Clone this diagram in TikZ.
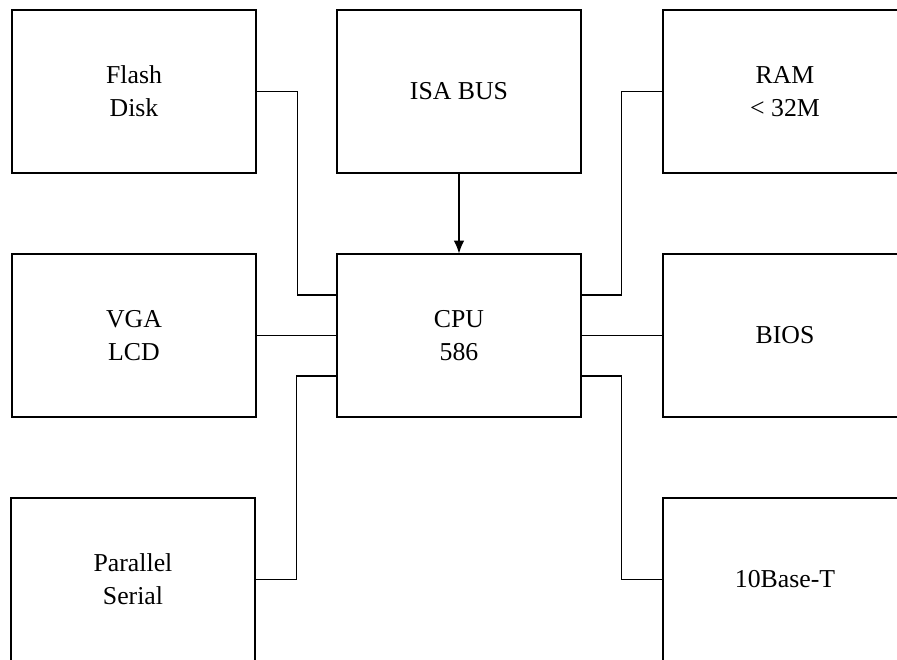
\documentclass[tikz,border=0pt]{standalone}
\usepackage{fontspec}
\setmainfont{Liberation Serif}
\usetikzlibrary{arrows.meta}
\begin{document}
\begin{tikzpicture}[x=0.03cm,y=-0.03cm,
  bloc/.style={draw,line width=1pt,minimum width=7.32cm,minimum height=4.89cm,inner sep=0pt,align=center,font=\fontsize{22}{28}\selectfont},
  liaison/.style={line width=0.9pt}] % carte CPU et ses peripheriques
\useasboundingbox (0,0) rectangle (897,659);

\node[bloc] (flash) at (134,91.5) {Flash\\Disk};
\node[bloc] (isa) at (459,91.5) {ISA BUS};
\node[bloc] (ram) at (785,91.5) {RAM\\< 32M};
\node[bloc] (vga) at (134,335.5) {VGA\\LCD};
\node[bloc] (cpu) at (459,335.5) {CPU\\586};
\node[bloc] (bios) at (785,335.5) {BIOS};
\node[bloc] (par) at (133,579.5) {Parallel\\Serial};
\node[bloc] (net) at (785,579.5) {10Base-T};

\draw [liaison,-{Latex[length=11pt,width=9pt]}] (isa.south) -- (cpu.north);
\draw [liaison] (flash.east) -- ++(41,0) |- ([yshift=1.215cm]cpu.west);
\draw [liaison] (vga.east) -- (cpu.west);
\draw [liaison] (par.east) -- ++(41,0) |- ([yshift=-1.215cm]cpu.west);
\draw [liaison] (ram.west) -- ++(-41,0) |- ([yshift=1.215cm]cpu.east);
\draw [liaison] (bios.west) -- (cpu.east);
\draw [liaison] (net.west) -- ++(-41,0) |- ([yshift=-1.215cm]cpu.east);

\end{tikzpicture}
\end{document}
